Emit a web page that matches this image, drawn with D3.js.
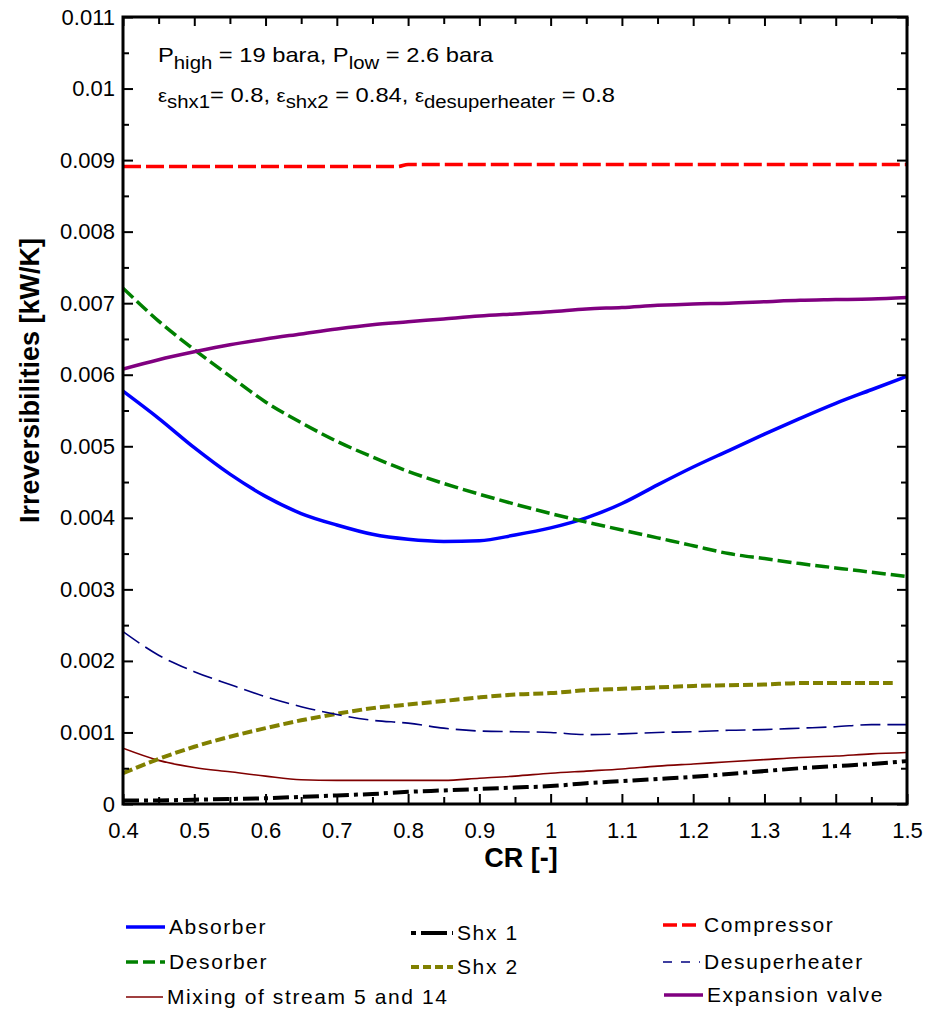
<!DOCTYPE html>
<html><head><meta charset="utf-8">
<script src="https://cdn.jsdelivr.net/npm/d3@7"></script>
<style>
body{margin:0;background:#fff}
text{font-family:"Liberation Sans",Arial,Helvetica,sans-serif;fill:#000}
</style>
</head><body>
<svg id="chart" width="927" height="1014"></svg>
<script>
// ---- data (CR [-] vs irreversibilities [kW/K]) ----
const cr = [0.40,0.45,0.50,0.55,0.60,0.65,0.70,0.75,0.80,0.85,0.90,0.95,1.00,1.05,1.10,1.15,1.20,1.25,1.30,1.35,1.40,1.45,1.50];
const absorber = [0.00577,0.00539,0.00498,0.00461,0.00430,0.00406,0.00390,0.00377,0.00370,0.00367,0.00368,0.00376,0.00386,0.00400,0.00420,0.00446,0.00471,0.00494,0.00517,0.00539,0.00560,0.00579,0.00598];
const desorber = [0.00721,0.00675,0.00635,0.00598,0.00562,0.00533,0.00507,0.00485,0.00465,0.00448,0.00433,0.00419,0.00406,0.00394,0.00383,0.00372,0.00361,0.00350,0.00343,0.00336,0.00330,0.00324,0.00318];
const expansionValve = [0.00608,0.00621,0.00632,0.00642,0.00650,0.00657,0.00664,0.00670,0.00674,0.00678,0.00682,0.00685,0.00688,0.00692,0.00694,0.00697,0.00699,0.00700,0.00702,0.00704,0.00705,0.00706,0.00708];
const desuperheater = [0.00241,0.00208,0.00185,0.00167,0.00150,0.00136,0.00125,0.00117,0.00113,0.00106,0.00102,0.00101,0.00100,0.00097,0.00098,0.00100,0.00101,0.00103,0.00104,0.00106,0.00108,0.00111,0.00111];
const mixing = [0.00078,0.00061,0.00051,0.00045,0.00039,0.00034,0.00033,0.00033,0.00033,0.00033,0.00036,0.00039,0.00043,0.00046,0.00049,0.00053,0.00056,0.00059,0.00062,0.00065,0.00067,0.00070,0.00072];
const shx1 = [0.00005,0.00005,0.00006,0.00007,0.00008,0.00010,0.00012,0.00014,0.00017,0.00019,0.00021,0.00023,0.00025,0.00029,0.00032,0.00035,0.00038,0.00042,0.00046,0.00050,0.00053,0.00056,0.00060];
const crShx2 = [0.40,0.45,0.50,0.55,0.60,0.65,0.70,0.75,0.80,0.85,0.90,0.95,1.00,1.05,1.10,1.15,1.20,1.25,1.30,1.35,1.40,1.45,1.48];
const shx2 = [0.00043,0.00063,0.00080,0.00094,0.00106,0.00117,0.00126,0.00134,0.00139,0.00144,0.00149,0.00153,0.00155,0.00159,0.00161,0.00163,0.00165,0.00166,0.00167,0.00169,0.00169,0.00169,0.00169];
const crCompressor = [0.40,0.785,0.80,1.50];
const compressor = [0.00891,0.00891,0.00894,0.00894];

const xTicks = [0.4,0.5,0.6,0.7,0.8,0.9,1.0,1.1,1.2,1.3,1.4,1.5];
const xTickLabels = ["0.4","0.5","0.6","0.7","0.8","0.9","1","1.1","1.2","1.3","1.4","1.5"];
const yTicks = [0,0.001,0.002,0.003,0.004,0.005,0.006,0.007,0.008,0.009,0.010,0.011];
const yTickLabels = ["0","0.001","0.002","0.003","0.004","0.005","0.006","0.007","0.008","0.009","0.01","0.011"];
const xMinorTicks = [0.45,0.55,0.65,0.75,0.85,0.95,1.05,1.15,1.25,1.35,1.45];
const yMinorTicks = [0.0005,0.0015,0.0025,0.0035,0.0045,0.0055,0.0065,0.0075,0.0085,0.0095,0.0105];

// ---- series styles ----
const series = [
  {name:"Absorber", xs:cr, ys:absorber, color:"#0000ff", w:3.5, dash:null},
  {name:"Desorber", xs:cr, ys:desorber, color:"#008000", w:3.5, dash:"14,5"},
  {name:"Mixing of stream 5 and 14", xs:cr, ys:mixing, color:"#800000", w:1.6, dash:null},
  {name:"Shx 1", xs:cr, ys:shx1, color:"#000000", w:4, dash:"16,5,4,5"},
  {name:"Shx 2", xs:crShx2, ys:shx2, color:"#808000", w:4, dash:"10,4"},
  {name:"Compressor", xs:crCompressor, ys:compressor, color:"#ff0000", w:3.5, dash:"18,5"},
  {name:"Desuperheater", xs:cr, ys:desuperheater, color:"#000080", w:1.6, dash:"20,7"},
  {name:"Expansion valve", xs:cr, ys:expansionValve, color:"#800080", w:3.5, dash:null}
];

const svg = d3.select("#chart");
const L=123, R=907, T=17, B=804;
const x = d3.scaleLinear().domain([0.4,1.5]).range([L,R]);
const y = d3.scaleLinear().domain([0,0.011]).range([B,T]);

// curves
svg.append("clipPath").attr("id","clp").append("rect")
  .attr("x",L).attr("y",T).attr("width",R-L).attr("height",B-T);
const line = d3.line().x(d=>x(d[0])).y(d=>y(d[1])).curve(d3.curveMonotoneX);
const gLines = svg.append("g").attr("clip-path","url(#clp)");
series.forEach(s=>{
  const pts = s.xs.map((v,i)=>[v,s.ys[i]]);
  gLines.append("path").datum(pts).attr("d",line)
    .attr("fill","none").attr("stroke",s.color).attr("stroke-width",s.w)
    .attr("stroke-dasharray",s.dash).attr("stroke-linejoin","round");
});

// axes
function styleAxis(g){ g.select(".domain").remove(); g.selectAll(".tick line").attr("stroke","#000").attr("stroke-width",2); g.selectAll("text").style("font-size","22px").attr("fill","#000"); }
svg.append("g").attr("transform",`translate(0,${B})`)
  .call(d3.axisBottom(x).tickValues(xTicks).tickFormat((d,i)=>xTickLabels[i]).tickSize(-10).tickPadding(18))
  .call(styleAxis);
svg.append("g").attr("transform",`translate(0,${B})`)
  .call(d3.axisBottom(x).tickValues(xMinorTicks).tickFormat("").tickSize(-7)).call(styleAxis);
svg.append("g").attr("transform",`translate(0,${T})`)
  .call(d3.axisTop(x).tickValues(xTicks).tickFormat("").tickSize(-9)).call(styleAxis);
svg.append("g").attr("transform",`translate(0,${T})`)
  .call(d3.axisTop(x).tickValues(xMinorTicks).tickFormat("").tickSize(-7)).call(styleAxis);
svg.append("g").attr("transform",`translate(${L},0)`)
  .call(d3.axisLeft(y).tickValues(yTicks).tickFormat((d,i)=>yTickLabels[i]).tickSize(-10).tickPadding(8))
  .call(styleAxis);
svg.append("g").attr("transform",`translate(${L},0)`)
  .call(d3.axisLeft(y).tickValues(yMinorTicks).tickFormat("").tickSize(-6)).call(styleAxis);
svg.append("g").attr("transform",`translate(${R},0)`)
  .call(d3.axisRight(y).tickValues(yTicks).tickFormat("").tickSize(-10)).call(styleAxis);
svg.append("g").attr("transform",`translate(${R},0)`)
  .call(d3.axisRight(y).tickValues(yMinorTicks).tickFormat("").tickSize(-6)).call(styleAxis);

// frame
svg.append("rect").attr("x",L).attr("y",T).attr("width",R-L).attr("height",B-T)
  .attr("fill","none").attr("stroke","#000").attr("stroke-width",3);

// axis titles
svg.append("text").attr("transform",`translate(39,${(T+B)/2-30}) rotate(-90)`)
  .attr("text-anchor","middle").style("font-size","27px").style("font-weight","bold")
  .text("Irreversibilities [kW/K]");
svg.append("text").attr("x",521).attr("y",867).attr("text-anchor","middle")
  .style("font-size","27px").style("font-weight","bold").text("CR [-]");

// annotation (horizontally stretched like the original)
const a1 = svg.append("text").attr("transform","translate(158,62) scale(1.13,1)").style("font-size","21px");
a1.append("tspan").text("P");
a1.append("tspan").attr("dy",7).style("font-size","18px").text("high");
a1.append("tspan").attr("dy",-7).text(" = 19 bara, P");
a1.append("tspan").attr("dy",7).style("font-size","18px").text("low");
a1.append("tspan").attr("dy",-7).text(" = 2.6 bara");
const a2 = svg.append("text").attr("transform","translate(158,102) scale(1.13,1)").style("font-size","21px");
a2.append("tspan").style("font-size","18px").text("ε");
a2.append("tspan").attr("dy",6).style("font-size","18px").text("shx1");
a2.append("tspan").attr("dy",-6).text("= 0.8, ");
a2.append("tspan").style("font-size","18px").text("ε");
a2.append("tspan").attr("dy",6).style("font-size","18px").text("shx2");
a2.append("tspan").attr("dy",-6).text(" = 0.84, ");
a2.append("tspan").style("font-size","18px").text("ε");
a2.append("tspan").attr("dy",6).style("font-size","18px").text("desuperheater");
a2.append("tspan").attr("dy",-6).text(" = 0.8");

// legend
const legendPos = {
  "Absorber":[126,165,927],
  "Desorber":[126,165,962],
  "Mixing of stream 5 and 14":[126,163,997],
  "Shx 1":[411,453,933],
  "Shx 2":[411,453,967],
  "Compressor":[663,700,925],
  "Desuperheater":[663,700,962],
  "Expansion valve":[664,703,995]
};
const legendDash = {"Desorber":"12,5","Shx 1":"5,5,26","Shx 2":"8,4","Compressor":"14,5","Desuperheater":"9,9"};
series.forEach(s=>{
  const p = legendPos[s.name];
  svg.append("line").attr("x1",p[0]).attr("x2",p[1]).attr("y1",p[2]).attr("y2",p[2])
    .attr("stroke",s.color).attr("stroke-width",s.w)
    .attr("stroke-dasharray",legendDash[s.name]||null);
  svg.append("text").attr("x",p[1]+4).attr("y",p[2]+7).style("font-size","21px")
    .style("letter-spacing","1.6px").text(s.name);
});
</script>
</body></html>
